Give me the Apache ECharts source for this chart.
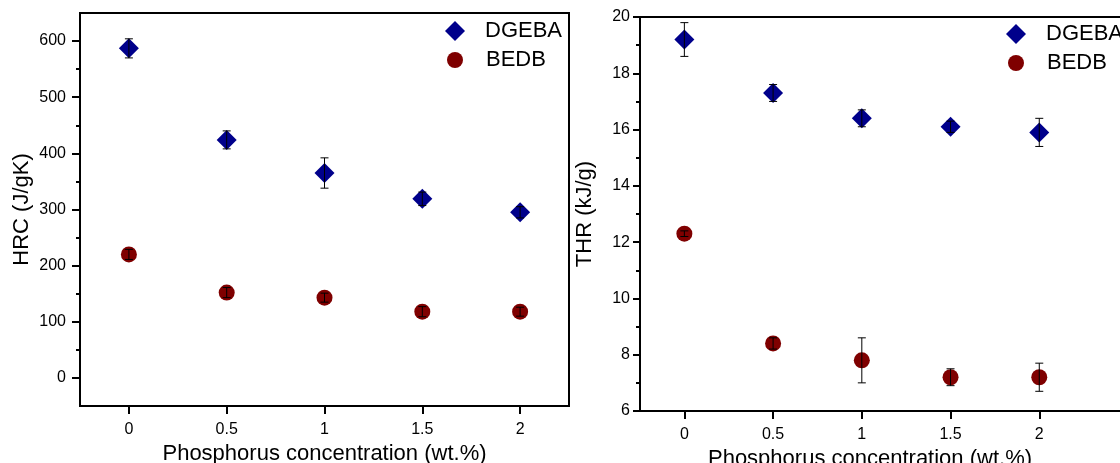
<!DOCTYPE html>
<html>
<head>
<meta charset="utf-8">
<script src="https://cdn.jsdelivr.net/npm/echarts@6/dist/echarts.min.js"></script>
<style>
  html, body { margin: 0; padding: 0; background: #fff; }
  #chart { width: 1120px; height: 463px; }
</style>
</head>
<body>
<div id="chart"></div>
<script>
// Phosphorus loading (wt.%) shared by both panels
const phosphorus = [0, 0.5, 1, 1.5, 2];

// Heat release capacity, J/gK (mean and standard deviation)
const hrcDGEBA = [587, 424, 365, 319, 295];
const hrcDGEBAErr = [17, 16, 27, 12, 10];
const hrcBEDB = [220, 152, 143, 118, 118];
const hrcBEDBErr = [9, 9, 8, 9, 8];

// Total heat release, kJ/g (mean and standard deviation)
const thrDGEBA = [19.2, 17.3, 16.4, 16.1, 15.9];
const thrDGEBAErr = [0.6, 0.3, 0.3, 0.2, 0.5];
const thrBEDB = [12.3, 8.4, 7.8, 7.2, 7.2];
const thrBEDBErr = [0.1, 0.2, 0.8, 0.3, 0.5];

// Tick values
const xTicks = [0, 0.5, 1, 1.5, 2];
const hrcTicks = [0, 100, 200, 300, 400, 500, 600];
const hrcMinorTicks = [50, 150, 250, 350, 450, 550];

const FONT = '"Liberation Sans", Arial, sans-serif';
const BLUE = '#00008B';
const RED = '#7F0000';

function errorBars(name, xi, yi, values, errors) {
  return {
    type: 'custom',
    name: name,
    xAxisIndex: xi,
    yAxisIndex: yi,
    z: 5,
    silent: true,
    data: phosphorus.map((p, i) => [p, values[i] - errors[i], values[i] + errors[i]]),
    encode: { x: 0, y: [1, 2] },
    renderItem(params, api) {
      const x = api.value(0);
      const lo = api.coord([x, api.value(1)]);
      const hi = api.coord([x, api.value(2)]);
      const cap = 4;
      const style = { stroke: '#000', lineWidth: 1 };
      return {
        type: 'group',
        children: [
          { type: 'line', shape: { x1: lo[0], y1: lo[1], x2: hi[0], y2: hi[1] }, style },
          { type: 'line', shape: { x1: lo[0] - cap, y1: lo[1], x2: lo[0] + cap, y2: lo[1] }, style },
          { type: 'line', shape: { x1: hi[0] - cap, y1: hi[1], x2: hi[0] + cap, y2: hi[1] }, style }
        ]
      };
    }
  };
}

function scatter(name, xi, yi, values, symbol, size, color) {
  return {
    type: 'scatter',
    name: name,
    xAxisIndex: xi,
    yAxisIndex: yi,
    symbol: symbol,
    symbolSize: size,
    itemStyle: { color: color, opacity: 1 },
    z: 3,
    data: phosphorus.map((p, i) => [p, values[i]])
  };
}

const axisLine = { show: true, onZero: false, lineStyle: { color: '#000', width: 2 } };
const labelStyle = { color: '#000', fontSize: 16, fontFamily: FONT };
const nameStyle = { color: '#000', fontSize: 22, fontFamily: FONT };

function xAxis(gridIndex, max, gap, namePad) {
  return {
    type: 'value',
    gridIndex: gridIndex,
    min: -0.25,
    max: max,
    name: 'Phosphorus concentration (wt.%)',
    nameLocation: 'middle',
    nameGap: gap,
    nameTextStyle: Object.assign({ padding: namePad }, nameStyle),
    axisLine: axisLine,
    axisTick: { show: true, length: 8, lineStyle: { color: '#000', width: 2 }, customValues: xTicks },
    axisLabel: Object.assign({ margin: 16, customValues: xTicks, formatter: v => String(v) }, labelStyle),
    splitLine: { show: false }
  };
}

// One legend entry; size is the marker's own size, textPad sets the gap before the label
function legend(name, left, top, size, textPad) {
  return {
    data: [name],
    orient: 'horizontal',
    left: left,
    top: top,
    itemWidth: size,
    itemHeight: size,
    selectedMode: false,
    textStyle: { color: '#000', fontSize: 22, fontFamily: FONT, padding: [0, 0, 0, textPad] }
  };
}

const chart = echarts.init(document.getElementById('chart'), null, { renderer: 'canvas' });

chart.setOption({
  animation: false,
  backgroundColor: '#fff',
  grid: [
    { left: 80, top: 13, width: 489, height: 393, outerBoundsMode: 'none', containLabel: false,
      show: true, borderColor: '#000', borderWidth: 2, backgroundColor: 'transparent' },
    { left: 640, top: 17, width: 488, height: 394, outerBoundsMode: 'none', containLabel: false,
      show: true, borderColor: '#000', borderWidth: 2, backgroundColor: 'transparent' }
  ],
  legend: [
    legend('DGEBA', 440, 15, 20, 15),
    legend('BEDB', 442, 44, 16, 18),
    legend('DGEBA', 1001, 18, 20, 15),
    legend('BEDB', 1003, 47, 16, 18)
  ],
  xAxis: [
    xAxis(0, 2.25, 36, [0, 0, 0, 0]),
    xAxis(1, 2.5, 33, [0, 28, 0, 0])
  ],
  yAxis: [
    {
      type: 'value',
      gridIndex: 0,
      min: -50,
      max: 650,
      name: 'HRC (J/gK)',
      nameLocation: 'middle',
      nameGap: 47,
      nameTextStyle: nameStyle,
      axisLine: axisLine,
      axisTick: { show: true, length: 8, lineStyle: { color: '#000', width: 2 }, customValues: hrcTicks },
      axisLabel: Object.assign({ margin: 14, customValues: hrcTicks }, labelStyle),
      splitLine: { show: false }
    },
    {
      type: 'value',
      gridIndex: 0,
      min: -50,
      max: 650,
      position: 'left',
      axisLine: { show: false, onZero: false },
      axisTick: { show: true, length: 4, lineStyle: { color: '#000', width: 2 }, customValues: hrcMinorTicks },
      axisLabel: { show: false },
      splitLine: { show: false }
    },
    {
      type: 'value',
      gridIndex: 1,
      min: 6,
      max: 20,
      interval: 2,
      name: 'THR (kJ/g)',
      nameLocation: 'middle',
      nameGap: 44,
      nameTextStyle: nameStyle,
      axisLine: axisLine,
      axisTick: { show: true, length: 7, lineStyle: { color: '#000', width: 2 } },
      minorTick: { show: true, splitNumber: 2, length: 4, lineStyle: { color: '#000', width: 2 } },
      axisLabel: Object.assign({ margin: 10 }, labelStyle),
      splitLine: { show: false }
    }
  ],
  series: [
    scatter('DGEBA', 0, 0, hrcDGEBA, 'diamond', 20, BLUE),
    scatter('BEDB', 0, 0, hrcBEDB, 'circle', 16, RED),
    errorBars('DGEBA HRC sd', 0, 0, hrcDGEBA, hrcDGEBAErr),
    errorBars('BEDB HRC sd', 0, 0, hrcBEDB, hrcBEDBErr),
    scatter('DGEBA', 1, 2, thrDGEBA, 'diamond', 20, BLUE),
    scatter('BEDB', 1, 2, thrBEDB, 'circle', 16, RED),
    errorBars('DGEBA THR sd', 1, 2, thrDGEBA, thrDGEBAErr),
    errorBars('BEDB THR sd', 1, 2, thrBEDB, thrBEDBErr)
  ]
});
</script>
</body>
</html>
